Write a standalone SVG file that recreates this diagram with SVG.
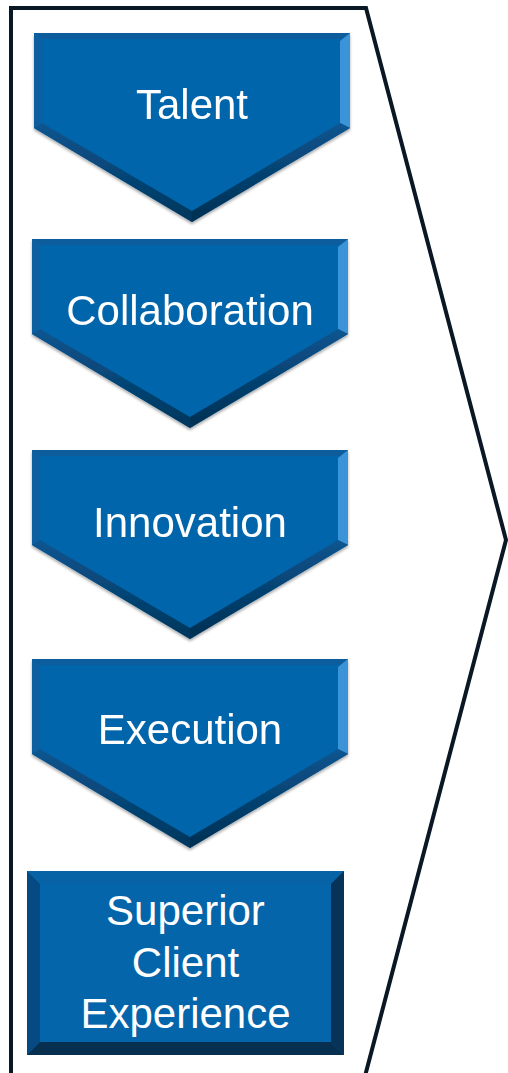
<svg xmlns="http://www.w3.org/2000/svg" width="508" height="1073" viewBox="0 0 508 1073">
  <defs>
    <style>
      .lbl { font-family: "Liberation Sans", Arial, sans-serif; font-size: 42px; fill: #ffffff; text-anchor: middle; }
      .main { fill: #0565aa; }
      .bt { fill: #0a5c9c; }
      .br { fill: #3a93d8; }
      .bbr { fill: url(#gbr); }
      .bbl { fill: url(#gbl); }
      .bl { fill: #0a5e9f; }
      .outline { fill: none; stroke: #0a1724; stroke-width: 4; stroke-linejoin: miter; }
    </style>
    <linearGradient id="gbr" x1="0" y1="0" x2="0" y2="1">
      <stop offset="0" stop-color="#0a5590"/>
      <stop offset="1" stop-color="#022f52"/>
    </linearGradient>
    <linearGradient id="gbl" x1="0" y1="0" x2="0" y2="1">
      <stop offset="0" stop-color="#0a5590"/>
      <stop offset="1" stop-color="#03365c"/>
    </linearGradient>
    <filter id="sh" x="-10%" y="-10%" width="120%" height="120%">
      <feGaussianBlur in="SourceAlpha" stdDeviation="1.5"/>
      <feOffset dx="0" dy="1.5" result="b"/>
      <feComponentTransfer><feFuncA type="linear" slope="0.35"/></feComponentTransfer>
      <feMerge><feMergeNode/><feMergeNode in="SourceGraphic"/></feMerge>
    </filter>
    <g id="chev">
      <polygon class="main" points="0,0 316,0 316,95 158,189 0,95"/>
      <polygon class="bt" points="0,0 316,0 308,6 8,6"/>
      <polygon class="br" points="316,0 316,95 306,90 306,8"/>
      <polygon class="bbr" points="316,95 158,189 158,178 306,90"/>
      <polygon class="bbl" points="0,95 158,189 158,178 8,90"/>
      <polygon class="bl" points="0,0 8,6 8,90 0,95"/>
    </g>
  </defs>

  <g id="frame">
    <path class="outline" d="M11,1080 L11,8 L366,8 L506,540 L364,1080"/>
  </g>

  <g id="talent" filter="url(#sh)">
    <use href="#chev" transform="translate(34,33)"/>
    <text class="lbl" x="192" y="119">Talent</text>
  </g>

  <g id="collaboration" filter="url(#sh)">
    <use href="#chev" transform="translate(32,239)"/>
    <text class="lbl" x="190" y="325">Collaboration</text>
  </g>

  <g id="innovation" filter="url(#sh)">
    <use href="#chev" transform="translate(32,450)"/>
    <text class="lbl" x="190" y="537">Innovation</text>
  </g>

  <g id="execution" filter="url(#sh)">
    <use href="#chev" transform="translate(32,659)"/>
    <text class="lbl" x="190" y="744">Execution</text>
  </g>

  <g id="superior-client-experience">
    <rect x="27" y="871" width="317" height="184" fill="#0565aa"/>
    <polygon points="27,871 344,871 331,884 40,884" fill="#0763a6"/>
    <polygon points="27,871 40,884 40,1042 27,1055" fill="#054a82"/>
    <polygon points="344,871 344,1055 331,1042 331,884" fill="#083358"/>
    <polygon points="27,1055 40,1042 331,1042 344,1055" fill="#072f4f"/>
    <text class="lbl" x="185.5" y="925">Superior</text>
    <text class="lbl" x="185.5" y="977">Client</text>
    <text class="lbl" x="185.5" y="1028">Experience</text>
  </g>

  <g id="connectors"/>
</svg>
